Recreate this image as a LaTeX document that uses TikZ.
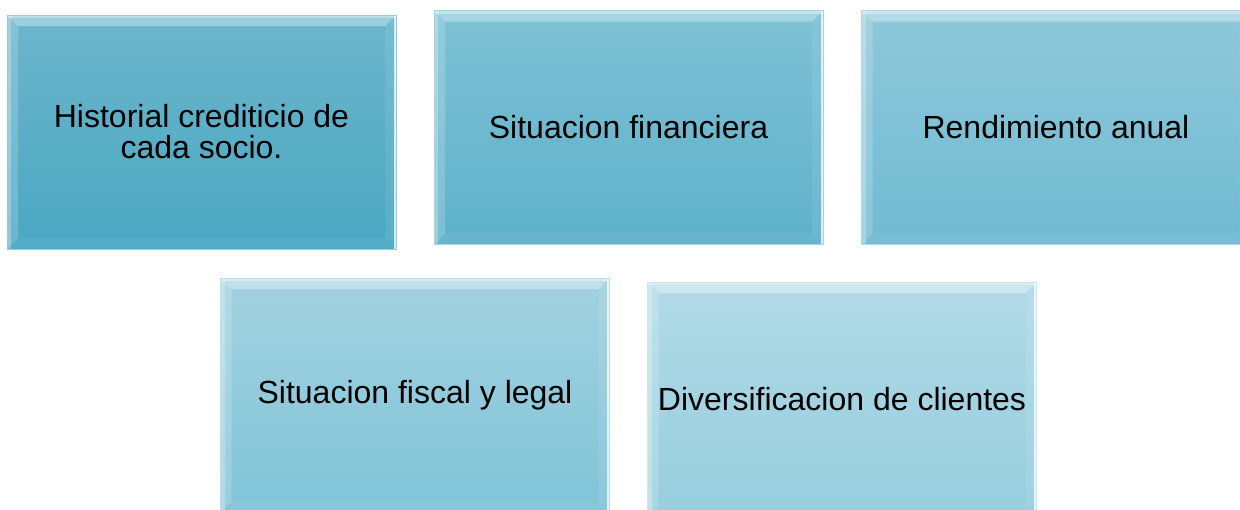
\documentclass[tikz,border=0pt]{standalone}
\usepackage{fontspec}
\setmainfont{Liberation Sans}
\begin{document}
\begin{tikzpicture}[x=1pt,y=-1pt,
  bev/.style={
    path picture={
      \def\b{11pt}
      \coordinate (nw) at (path picture bounding box.north west);
      \coordinate (ne) at (path picture bounding box.north east);
      \coordinate (sw) at (path picture bounding box.south west);
      \coordinate (se) at (path picture bounding box.south east);
      % top bevel
      \fill[white,opacity=.33] (nw) -- (ne) -- ([xshift=-\b,yshift=-\b]ne) -- ([xshift=\b,yshift=-\b]nw) -- cycle;
      \fill[white,opacity=.35] (nw) -- (ne) -- ([yshift=-3pt]ne) -- ([yshift=-3pt]nw) -- cycle;
      % left bevel
      \fill[white,opacity=.18] (nw) -- ([xshift=\b,yshift=-\b]nw) -- ([xshift=\b,yshift=\b]sw) -- (sw) -- cycle;
      \fill[white,opacity=.25] (nw) -- (sw) -- ([xshift=4pt]sw) -- ([xshift=4pt]nw) -- cycle;
      % right bevel
      \fill[white,opacity=.08] (ne) -- (se) -- ([xshift=-\b,yshift=\b]se) -- ([xshift=-\b,yshift=-\b]ne) -- cycle;
      \fill[white,opacity=.75] (ne) -- (se) -- ([xshift=-2.5pt]se) -- ([xshift=-2.5pt]ne) -- cycle;
      % bottom bevel
      \fill[white,opacity=.05] (sw) -- (se) -- ([xshift=-\b,yshift=\b]se) -- ([xshift=\b,yshift=\b]sw) -- cycle;
    }},
  box/.style 2 args={bev, top color=#1, bottom color=#2, draw=#1!70!white, line width=0.8pt,
    minimum width=389pt, minimum height=234pt, inner sep=0pt, align=center,
    font=\fontsize{32}{31}\selectfont, text=black},
]
\useasboundingbox (0,0) rectangle (1240,509);
\clip (0,0) rectangle (1240,509);
\definecolor{ta}{HTML}{6CB6CC}\definecolor{ba}{HTML}{4AA7C2}
\definecolor{tb}{HTML}{7EC1D5}\definecolor{bb}{HTML}{5EB2CB}
\definecolor{tc}{HTML}{8FC8DA}\definecolor{bc}{HTML}{70BBD2}
\definecolor{td}{HTML}{A2D2E0}\definecolor{bd}{HTML}{80C4D8}
\definecolor{te}{HTML}{B2DAE6}\definecolor{be}{HTML}{96CEDE}
\node[box={ta}{ba}] (hist) at (201.5,132) {Historial crediticio de\\cada socio.};
\node[box={tb}{bb}] (fin) at (628.5,127.5) {Situacion financiera};
\node[box={tc}{bc}] (rend) at (1056,127.5) {Rendimiento anual};
\node[box={td}{bd}] (fisc) at (415,395) {Situacion fiscal y legal};
\node[box={te}{be}] (div) at (842,399) {Diversificacion de clientes};
\end{tikzpicture}
\end{document}
